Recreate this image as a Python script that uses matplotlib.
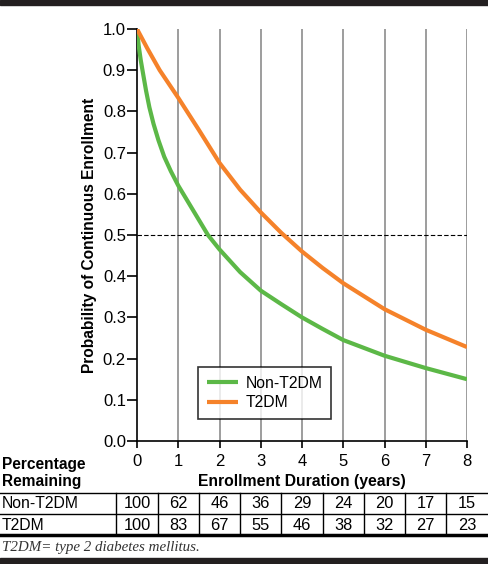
import numpy as np
import matplotlib.pyplot as plt
from matplotlib.lines import Line2D
from matplotlib.patches import Rectangle
from matplotlib.transforms import blended_transform_factory

plt.rcParams['font.family'] = ['Liberation Sans', 'DejaVu Sans']

# curve values (years, probability)
years_non = [0, 0.04, 0.09, 0.15, 0.22, 0.30, 0.40, 0.52, 0.66, 0.82, 1.0,
             1.3, 1.72, 2, 2.5, 3, 3.5, 4, 4.5, 5, 6, 7, 8]
prob_non = [1.0, 0.96, 0.925, 0.89, 0.85, 0.81, 0.77, 0.73, 0.69, 0.655, 0.62,
            0.57, 0.50, 0.465, 0.41, 0.365, 0.332, 0.30, 0.272, 0.245, 0.207,
            0.177, 0.15]
years_t2 = [0, 0.25, 0.55, 1, 1.5, 2, 2.5, 3, 3.5, 4, 4.5, 5, 6, 7, 8]
prob_t2 = [1.0, 0.953, 0.90, 0.833, 0.755, 0.675, 0.61, 0.555, 0.505, 0.46,
           0.42, 0.383, 0.32, 0.27, 0.228]

# table below the chart
tab_years = [0, 1, 2, 3, 4, 5, 6, 7, 8]
pct_non = [100, 62, 46, 36, 29, 24, 20, 17, 15]
pct_t2 = [100, 83, 67, 55, 46, 38, 32, 27, 23]

GREEN = '#5cb847'
ORANGE = '#f5822a'
W, H = 488, 564

fig = plt.figure(figsize=(4.88, 5.64), dpi=100)
ax = fig.add_axes([137 / W, 1 - 441 / H, 330 / W, 412 / H])

for t in tab_years[1:]:
    ax.axvline(t, color='#8c8c8c', lw=1.2, zorder=1)
ax.axhline(0.5, color='black', lw=0.8, ls=(0, (4, 2)), zorder=1)

ax.plot(years_non, prob_non, color=GREEN, lw=3, label='Non-T2DM', zorder=3,
        solid_capstyle='butt', solid_joinstyle='round')
ax.plot(years_t2, prob_t2, color=ORANGE, lw=3, label='T2DM', zorder=3,
        solid_capstyle='butt', solid_joinstyle='round')

ax.set_xlim(0, 8)
ax.set_ylim(0, 1.0)
ax.set_xticks(tab_years)
ax.set_yticks(np.arange(0, 1.01, 0.1))
ax.set_yticklabels(['%.1f' % v for v in np.arange(0, 1.01, 0.1)])
ax.spines['top'].set_visible(False)
ax.spines['right'].set_visible(False)
ax.spines['left'].set_linewidth(1.2)
ax.spines['bottom'].set_linewidth(1.2)
ax.tick_params(axis='y', length=7, width=1.2, labelsize=12, pad=1)
ax.tick_params(axis='x', length=5, width=1.2, labelsize=12, pad=4)
ax.set_ylabel('Probability of Continuous Enrollment', fontsize=11.2,
              fontweight='bold', labelpad=4)
ax.set_xlabel('Enrollment Duration (years)', fontsize=11.3, fontweight='bold',
              labelpad=4)

leg = ax.legend(loc='upper left', bbox_to_anchor=(198 / W, 1 - 367 / H),
                bbox_transform=fig.transFigure, frameon=True, fancybox=False,
                edgecolor='black', fontsize=11.3, handlelength=2.0,
                borderpad=0.55, labelspacing=0.3, handletextpad=0.5,
                borderaxespad=0)
leg.get_frame().set_linewidth(1.2)

fig.text(2 / W, 1 - 473 / H, 'Percentage\nRemaining', fontsize=11.2,
         fontweight='bold', va='center', ha='left', linespacing=1.2)

# table
tr = blended_transform_factory(ax.transData, fig.transFigure)
row_y = [1 - 504 / H, 1 - 525 / H]
for label, vals, y in [('Non-T2DM', pct_non, row_y[0]), ('T2DM', pct_t2, row_y[1])]:
    fig.text(2 / W, y, label, fontsize=11.3, va='center', ha='left')
    for t, v in zip(tab_years, vals):
        ax.text(t, y, str(v), transform=tr, fontsize=11.8, va='center',
                ha='center', clip_on=False)

fig.add_artist(Line2D([0, 1], [1 - 492.5 / H] * 2, color='black', lw=1.0))
fig.add_artist(Line2D([0, 1], [1 - 514 / H] * 2, color='black', lw=1.0))
fig.add_artist(Line2D([0, 1], [1 - 535 / H] * 2, color='black', lw=2.5))
for t in tab_years:
    ax.add_artist(Line2D([t - 0.5, t - 0.5], [1 - 492.5 / H, 1 - 535 / H],
                         color='black', lw=1.0, transform=tr, clip_on=False))

fig.text(2 / W, 1 - 548 / H, 'T2DM= type 2 diabetes mellitus.', fontsize=10.8,
         style='italic', family=['Liberation Serif', 'DejaVu Serif'],
         color='#333333', va='center', ha='left')

# black bars at top and bottom
fig.add_artist(Rectangle((0, 1 - 5 / H), 1, 5 / H, color='#231f20',
                         transform=fig.transFigure))
fig.add_artist(Rectangle((0, 0), 1, 6 / H, color='#231f20',
                         transform=fig.transFigure))

fig.savefig('out.png', dpi=100)
